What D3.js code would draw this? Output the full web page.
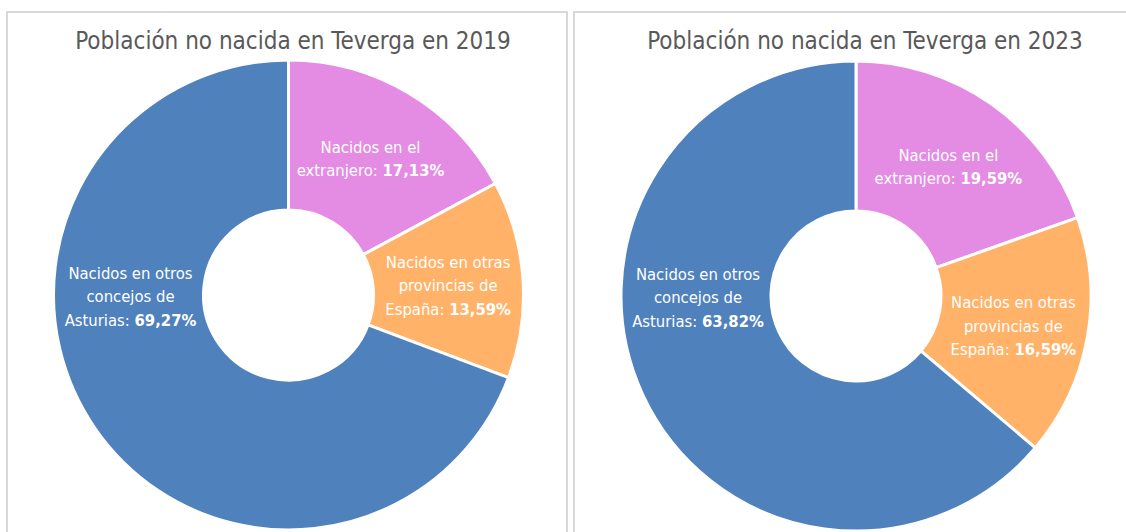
<!DOCTYPE html>
<html>
<head>
<meta charset="utf-8">
<script src="https://cdn.jsdelivr.net/npm/d3@7"></script>
<style>
  html, body { margin: 0; padding: 0; background: #fff; }
  svg { display: block; }
  text { font-family: "DejaVu Sans", sans-serif; font-stretch: condensed; }
</style>
</head>
<body>
<svg id="chart" width="1126" height="532"></svg>
<script>
// Population of Teverga not born in the municipality, by place of birth (%)
const categories = ["Nacidos en el extranjero", "Nacidos en otras provincias de España", "Nacidos en otros concejos de Asturias"];
const labelLines = [
  ["Nacidos en el", "extranjero: "],
  ["Nacidos en otras", "provincias de", "España: "],
  ["Nacidos en otros", "concejos de", "Asturias: "]
];
const colors = ["#E48BE3", "#FFB268", "#4F81BD"];
const years = ["2019", "2023"];
const values2019 = [17.13, 13.59, 69.27];
const values2023 = [19.59, 16.59, 63.82];
const titles = ["Población no nacida en Teverga en 2019", "Población no nacida en Teverga en 2023"];

const panels = [
  { title: titles[0], values: values2019, x: 7, w: 560, cx: 288.5, cy: 295 },
  { title: titles[1], values: values2023, x: 574, w: 570, cx: 856, cy: 296 }
];

const svg = d3.select("#chart");
const outerR = 235, innerR = 85;
const fmt = v => v.toFixed(2).replace(".", ",") + "%";

const pie = d3.pie().sort(null).value(d => d.value);
const arc = d3.arc().innerRadius(innerR).outerRadius(outerR);

panels.forEach(p => {
  // chart frame
  svg.append("rect")
    .attr("x", p.x).attr("y", 12)
    .attr("width", p.w).attr("height", 540)
    .attr("fill", "#fff")
    .attr("stroke", "#D9D9D9").attr("stroke-width", 2);

  svg.append("text")
    .attr("x", p.x + p.w / 2 + 6).attr("y", 49)
    .attr("text-anchor", "middle")
    .attr("font-size", 24)
    .attr("fill", "#595959")
    .text(p.title);

  const data = categories.map((c, i) => ({ name: c, value: p.values[i], lines: labelLines[i], color: colors[i] }));
  const arcs = pie(data);
  const g = svg.append("g").attr("transform", `translate(${p.cx},${p.cy})`);

  g.selectAll("path").data(arcs).join("path")
    .attr("d", arc)
    .attr("fill", d => d.data.color)
    .attr("stroke", "#fff")
    .attr("stroke-width", 3)
    .attr("stroke-linejoin", "miter");

  // Data labels: centroid of each ring segment; the largest slice is labelled on its horizontal (left) side
  const maxVal = d3.max(p.values);
  const rMid = (innerR + outerR) / 2;
  const lineH = 23.5;
  arcs.forEach(a => {
    let ang = (a.startAngle + a.endAngle) / 2;
    let r = rMid;
    if (a.data.value === maxVal) { ang = -Math.PI / 2; r = rMid - 2; }
    const lx = Math.sin(ang) * r;
    const ly = -Math.cos(ang) * r;
    const n = a.data.lines.length;
    const t = g.append("text")
      .attr("text-anchor", "middle")
      .attr("fill", "#fff")
      .attr("font-size", 16.5);
    a.data.lines.forEach((ln, i) => {
      t.append("tspan")
        .attr("x", lx)
        .attr("y", ly + (i - (n - 1) / 2) * lineH + 7)
        .text(ln);
      if (i === n - 1) {
        t.append("tspan").attr("font-weight", "bold").text(fmt(a.data.value));
      }
    });
  });
});
</script>
</body>
</html>
